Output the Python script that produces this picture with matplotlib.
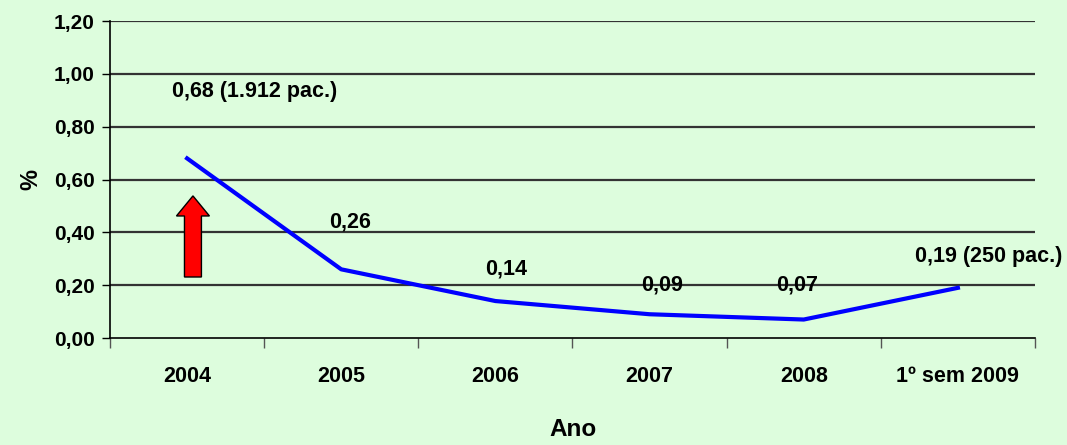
import matplotlib
matplotlib.use("Agg")
import matplotlib.pyplot as plt
from matplotlib.patches import FancyArrow
from matplotlib import font_manager

categories = ["2004", "2005", "2006", "2007", "2008", "1º sem 2009"]
values = [0.68, 0.26, 0.14, 0.09, 0.07, 0.19]
labels = ["0,68 (1.912 pac.)", "0,26", "0,14", "0,09", "0,07", "0,19 (250 pac.)"]
label_y = [0.935, 0.44, 0.26, 0.20, 0.20, 0.31]
label_dx = [0.44, 0.06, 0.07, 0.08, -0.04, 0.20]
yticks = [0.0, 0.2, 0.4, 0.6, 0.8, 1.0, 1.2]
ytick_labels = ["0,00", "0,20", "0,40", "0,60", "0,80", "1,00", "1,20"]

names = {f.name for f in font_manager.fontManager.ttflist}
fam = [f for f in ["Liberation Sans Narrow", "Liberation Sans", "DejaVu Sans"] if f in names]
plt.rcParams['font.family'] = fam
plt.rcParams['font.weight'] = 'bold'

bg = "#DDFDDD"
fig = plt.figure(figsize=(10.67, 4.45), dpi=100, facecolor=bg)
ax = fig.add_axes([0.1031, 0.2404, 0.8669, 0.7124], facecolor=bg)

x = list(range(len(categories)))
ax.plot(x, values, color="#0000FF", lw=3, zorder=3)

ax.set_xlim(-0.5, len(categories) - 0.5)
ax.set_ylim(0, 1.2)
ax.set_yticks(yticks)
ax.set_yticklabels(ytick_labels, fontsize=15, fontweight='bold')
for yv in yticks[1:]:
    ax.axhline(yv, color="#333333", lw=1.6, zorder=1)

ax.set_xticks([i - 0.5 for i in range(len(categories) + 1)])
ax.set_xticklabels([])
ax.tick_params(axis='x', direction='out', length=7, width=1, color="#555555")
ax.tick_params(axis='y', direction='out', length=6, width=1, pad=5)
for i, c in enumerate(categories):
    ax.text(i, -0.144, c, ha='center', va='center', fontsize=15.5, fontweight='bold',
            transform=ax.transData, clip_on=False)

for s in ['top', 'right']:
    ax.spines[s].set_visible(False)
ax.spines['left'].set_linewidth(1.2)
ax.spines['bottom'].set_linewidth(1.2)

for i, (lab, ly, dx) in enumerate(zip(labels, label_y, label_dx)):
    ax.text(i + dx, ly, lab, ha='center', va='center', fontsize=15.5, fontweight='bold', zorder=4)

ax.set_ylabel("%", fontsize=17, fontweight='bold', labelpad=8)
fig.text(0.537, 0.034, "Ano", ha='center', va='center', fontsize=17.5, fontweight='bold')

arrow = FancyArrow(0.038, 0.231, 0, 0.307, width=0.11, head_width=0.214,
                   head_length=0.076, length_includes_head=True,
                   facecolor="#FF0000", edgecolor="black", lw=1, zorder=5)
ax.add_patch(arrow)

fig.savefig("out.png", dpi=100, facecolor=bg)
